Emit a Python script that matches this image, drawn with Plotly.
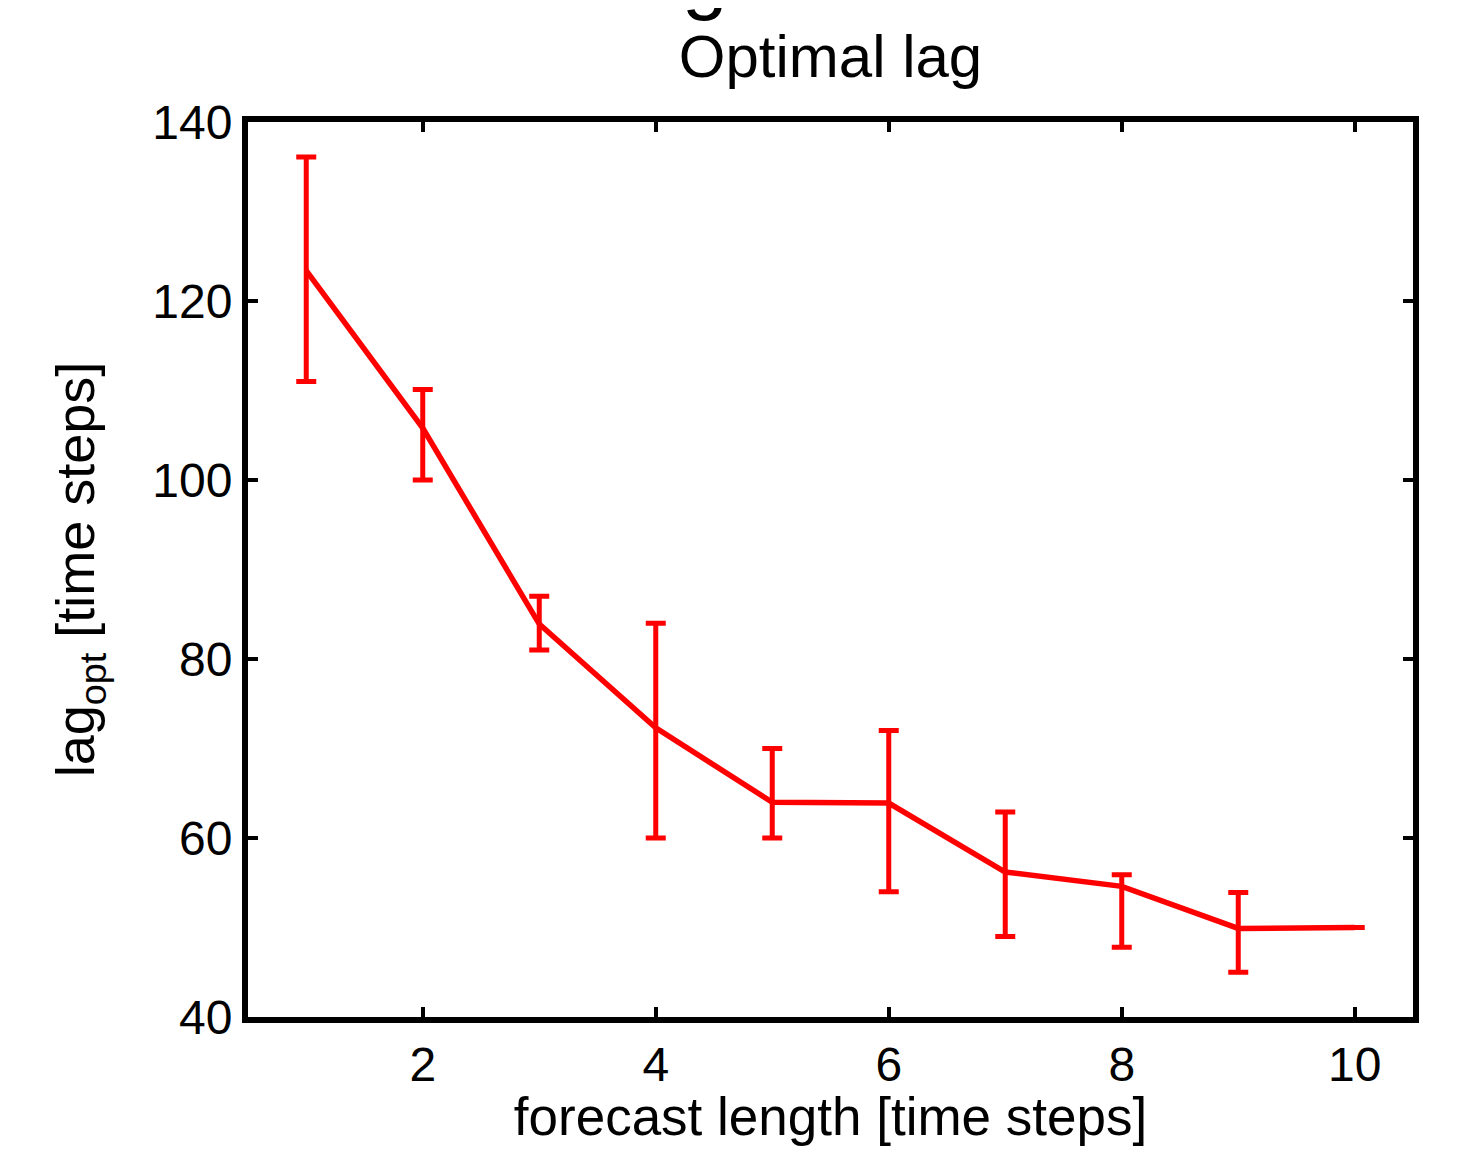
import plotly.graph_objects as go

# Data
forecast_length = [1, 2, 3, 4, 5, 6, 7, 8, 9, 10]
lag_opt = [123.4, 105.8, 83.9, 72.3, 64.0, 63.9, 56.2, 54.6, 49.9, 50.0]
err_plus = [12.7, 4.3, 3.1, 11.7, 6.0, 8.1, 6.7, 1.3, 4.0, 0.0]
err_minus = [12.4, 5.8, 2.9, 12.3, 4.0, 9.9, 7.2, 6.8, 4.9, 0.0]

x_ticks = [2, 4, 6, 8, 10]
y_ticks = [40, 60, 80, 100, 120, 140]

FONT = "Liberation Sans, Arial, sans-serif"
W, H = 1445, 1138
L, R, T, B = 240, 40, 114, 119

fig = go.Figure()
fig.add_trace(go.Scatter(
    x=forecast_length, y=lag_opt, mode="lines",
    line=dict(color="#ff0000", width=5.5),
    error_y=dict(type="data", symmetric=False, array=err_plus, arrayminus=err_minus,
                 color="#ff0000", thickness=5, width=10),
    showlegend=False,
))

ph = H - T - B
fig.add_annotation(text="g", x=(697 - L) / (W - L - R), xref="paper",
                   y=1 + (T - 14) / ph, yref="paper", yanchor="bottom",
                   showarrow=False, font=dict(family=FONT, size=82, color="black"))

fig.update_layout(
    width=W, height=H,
    margin=dict(l=L, r=R, t=T, b=B),
    paper_bgcolor="white", plot_bgcolor="white",
    font=dict(family=FONT, color="black"),
    title=dict(text="Optimal lag", x=(L + (W - L - R) / 2) / W, xanchor="center",
               y=1 - 48 / H, yanchor="middle", yref="container",
               font=dict(family=FONT, size=60, color="black")),
    xaxis=dict(range=[0.5, 10.5], tickvals=x_ticks, ticks="inside", ticklen=10,
               tickwidth=4, tickcolor="black", showline=True, linewidth=6,
               linecolor="black", mirror="ticks", showgrid=False, zeroline=False,
               tickfont=dict(size=48, family=FONT, color="black"),
               title=dict(text="forecast length [time steps]", standoff=6,
                          font=dict(size=53, family=FONT, color="black"))),
    yaxis=dict(range=[40, 140], tickvals=y_ticks, ticks="inside", ticklen=10,
               tickwidth=4, tickcolor="black", showline=True, linewidth=6,
               linecolor="black", mirror="ticks", showgrid=False, zeroline=False,
               tickfont=dict(size=48, family=FONT, color="black"),
               title=dict(text="lag<sub>opt</sub> [time steps]", standoff=42,
                          font=dict(size=54, family=FONT, color="black"))),
)

fig.write_html("out.html")
